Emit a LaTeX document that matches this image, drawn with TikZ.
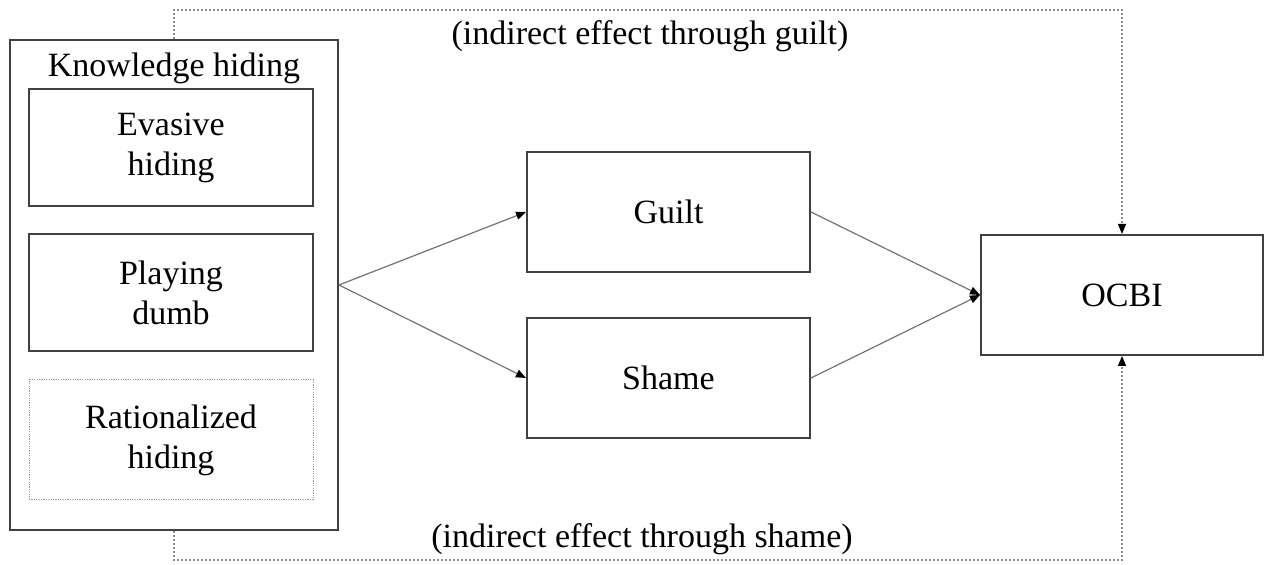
\documentclass[tikz,border=0pt]{standalone}
\usepackage{fontspec}
\setmainfont{Liberation Serif}
\usetikzlibrary{arrows.meta}
\begin{document}
\begin{tikzpicture}[x=0.5pt, y=-0.5pt, font=\fontsize{17}{20}\selectfont,
  box/.style={draw=black!75, line width=1pt, align=center, inner sep=0pt},
  dimbox/.style={draw=black!40, line width=0.5pt, dash pattern=on 0.6pt off 0.6pt, align=center, inner sep=0pt},
  link/.style={draw=black!55, line width=0.6pt, -{Triangle[length=5pt,width=4pt,color=black]}},
  via/.style={draw=black!45, line width=0.6pt, dash pattern=on 1pt off 1pt, -{Triangle[length=5pt,width=4pt,color=black]}}]
	\useasboundingbox (0,0) rectangle (1265,565);
	% 1. 左侧：知识隐藏及其三个维度
	\node[box, minimum width=164pt, minimum height=245pt] (kh) at (174,285) {};
	\node[anchor=base] (khtitle) at (174,77) {Knowledge hiding};
	\node[box, minimum width=142pt, minimum height=58.5pt] (evasive) at (171,147.5) {Evasive\\hiding};
	\node[box, minimum width=142pt, minimum height=58.5pt] (dumb) at (171,292.5) {Playing\\dumb};
	\node[dimbox, minimum width=142pt, minimum height=60pt] (rational) at (171,440) {Rationalized\\hiding};
	
	% 2. 中介变量与结果变量
	\node[box, minimum width=141.5pt, minimum height=60pt] (guilt) at (668.5,212) {Guilt};
	\node[box, minimum width=141.5pt, minimum height=60pt] (shame) at (668.5,378) {Shame};
	\node[box, minimum width=141pt, minimum height=60pt] (ocbi) at (1122,295) {OCBI};
	
	% 3. 实线箭头
	\draw[link] (kh.east) -- (guilt.west);
	\draw[link] (kh.east) -- (shame.west);
	\draw[link] (guilt.east) -- (ocbi.west);
	\draw[link] (shame.east) -- (ocbi.west);
	
	% 4. 间接效应（虚线）
	\coordinate (guiltway) at (640,10);
	\coordinate (shameway) at (640,560);
	\draw[via] (kh.north) |- (guiltway) -| (ocbi.north);
	\draw[via] (kh.south) |- (shameway) -| (ocbi.south);
	\node[anchor=base] (guiltnote) at (650,45) {(indirect effect through guilt)};
	\node[anchor=base] (shamenote) at (642,548) {(indirect effect through shame)};
\end{tikzpicture}
\end{document}
